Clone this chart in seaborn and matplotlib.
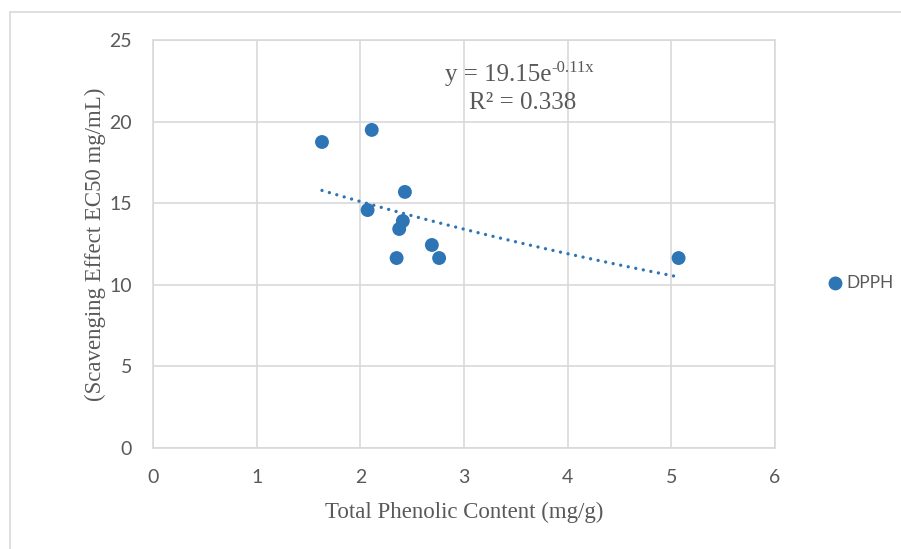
import numpy as np
import pandas as pd
import matplotlib
matplotlib.use("Agg")
import matplotlib.pyplot as plt
from matplotlib.lines import Line2D
import seaborn as sns

# Total phenolic content (mg/g) vs DPPH scavenging EC50 (mg/mL)
tpc = [1.63, 2.11, 2.07, 2.43, 2.41, 2.375, 2.35, 2.69, 2.76, 5.07]
ec50 = [18.75, 19.49, 14.58, 15.69, 13.91, 13.42, 11.64, 12.44, 11.64, 11.64]
series_name = "DPPH"
x_ticks = [0, 1, 2, 3, 4, 5, 6]
y_ticks = [0, 5, 10, 15, 20, 25]

df = pd.DataFrame({"tpc": tpc, "ec50": ec50})

blue = "#2E75B6"
grey_txt = "#595959"
grey_line = "#D9D9D9"

sns.set_style("white")
plt.rcParams["font.family"] = ["Lato", "DejaVu Sans"]

fig = plt.figure(figsize=(9.01, 5.49), dpi=100)
ax = fig.add_axes([153 / 901, 1 - 448 / 549, 622 / 901, 408 / 549])

sns.scatterplot(data=df, x="tpc", y="ec50", ax=ax, color=blue, s=100,
                edgecolor="none", label=series_name, zorder=3)

# exponential trendline (least squares on log y, like Excel)
b, ln_a = np.polyfit(df["tpc"], np.log(df["ec50"]), 1)
xs = np.linspace(df["tpc"].min(), df["tpc"].max(), 100)
ax.plot(xs, np.exp(ln_a) * np.exp(b * xs), color=blue, lw=2.4,
        linestyle=(0, (0.01, 2.3)), dash_capstyle="round", zorder=4)

ax.set_xlim(0, 6)
ax.set_ylim(0, 25)
ax.set_xticks(x_ticks)
ax.set_yticks(y_ticks)
ax.grid(True, color=grey_line, lw=1.2)
ax.set_axisbelow(True)
for sp in ax.spines.values():
    sp.set_color(grey_line)
    sp.set_linewidth(1.2)
ax.tick_params(length=0, labelsize=14, colors=grey_txt)
ax.tick_params(axis="x", pad=15)
ax.tick_params(axis="y", pad=15)

ax.set_xlabel("Total Phenolic Content (mg/g)", family="Liberation Serif",
              fontsize=16.5, color=grey_txt)
ax.set_ylabel("(Scavenging Effect EC50 mg/mL)", family="Liberation Serif",
              fontsize=16.5, color=grey_txt)
ax.xaxis.label.set_va("center")
ax.yaxis.label.set_va("center")
ax.xaxis.set_label_coords(0.5, -0.157)
ax.yaxis.set_label_coords(-0.093, 0.5)

# trendline equation
eq = ax.text(2.817, 22.85, "y = 19.15e", family="Liberation Serif", fontsize=18,
             color=grey_txt, va="center", ha="left")
ax.annotate("-0.11x", xy=(1, 0.8), xycoords=eq, family="Liberation Serif",
            fontsize=12, color=grey_txt, va="center", ha="left")
ax.text(3.564, 21.14, "R² = 0.338", family="Liberation Serif", fontsize=18,
        color=grey_txt, va="center", ha="center")

ax.legend(loc="center left", bbox_to_anchor=(819 / 901, 1 - 283 / 549),
          bbox_transform=fig.transFigure, frameon=False, borderpad=0,
          handlelength=0.9, handletextpad=0.15, fontsize=12.5,
          labelcolor=grey_txt)

# chart area border (top and left visible)
fig.add_artist(Line2D([10 / 901, 1], [1 - 12 / 549] * 2, transform=fig.transFigure,
                      color=grey_line, lw=1.2))
fig.add_artist(Line2D([10 / 901] * 2, [0, 1 - 12 / 549], transform=fig.transFigure,
                      color=grey_line, lw=1.2))

fig.savefig("out.png", dpi=100)
